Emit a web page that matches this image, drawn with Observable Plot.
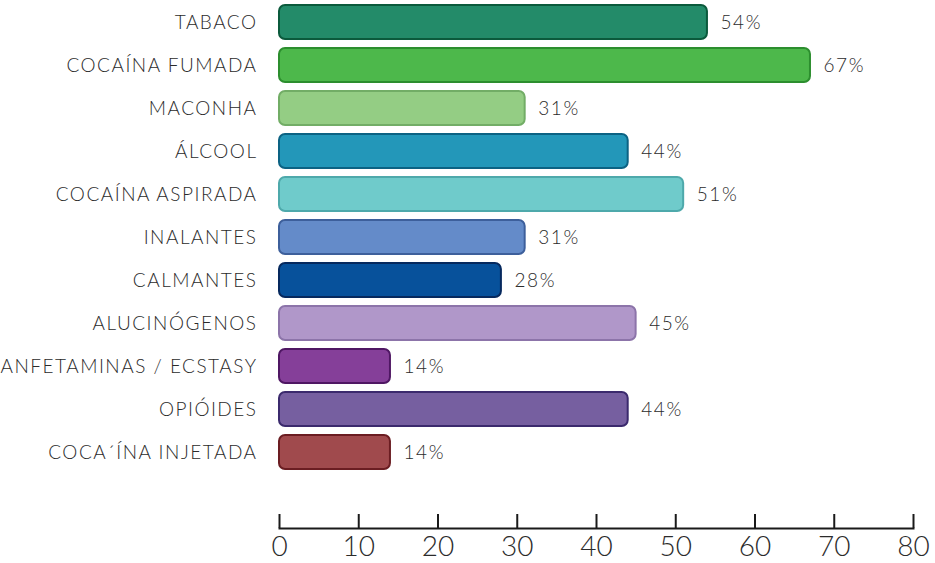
<!DOCTYPE html>
<html>
<head>
<meta charset="utf-8">
<script src="https://cdn.jsdelivr.net/npm/d3@7"></script>
<script src="https://cdn.jsdelivr.net/npm/@observablehq/plot@0.6"></script>
<style>
  html, body { margin: 0; padding: 0; background: #fff; }
  #chart svg { display: block; }
  #chart g[aria-label="y-axis tick label"] text { letter-spacing: 1.5px; }
  #chart g.value-labels text { letter-spacing: 1.6px; }
</style>
</head>
<body>
<div id="chart"></div>
<script>
const categories = [
  "TABACO", "COCAÍNA FUMADA", "MACONHA", "ÁLCOOL", "COCAÍNA ASPIRADA",
  "INALANTES", "CALMANTES", "ALUCINÓGENOS", "ANFETAMINAS / ECSTASY",
  "OPIÓIDES", "COCA´ÍNA INJETADA"
];
const values = [54, 67, 31, 44, 51, 31, 28, 45, 14, 44, 14];
const fills = [
  "#238b69", "#4db84b", "#94cd84", "#2397b9", "#6fcbcb",
  "#648bc9", "#07519b", "#b097c9", "#853f99", "#765fa0", "#a04a4d"
];
const strokes = [
  "#0b5a3c", "#2c8e2e", "#72ad66", "#0c6283", "#4ea9ab",
  "#3d5f9b", "#06295e", "#8c74a9", "#4f1763", "#3b2a6d", "#6b1d22"
];
const xTicks = [0, 10, 20, 30, 40, 50, 60, 70, 80];

const data = categories.map((c, i) => ({cat: c, value: values[i], fill: fills[i], stroke: strokes[i]}));

const W = 935, H = 563, MB = 35;
const font = "Lato, 'Open Sans', sans-serif";

const chart = Plot.plot({
  width: W,
  height: H,
  marginLeft: 279,
  marginRight: 22,
  marginTop: 0,
  marginBottom: MB,
  style: {fontFamily: font, color: "#2b2b2b", background: "#fff"},
  x: {domain: [0, 80]},
  y: {domain: categories, range: [-5.7, 480.4], padding: 0.2},
  marks: [
    Plot.barX(data, {
      y: "cat", x: "value", fill: "fill", stroke: "stroke",
      strokeWidth: 2, rx: 6
    }),
    Plot.text(data, {
      y: "cat", x: "value", text: d => d.value + "%",
      dx: 13, textAnchor: "start", fontSize: 19, fontWeight: 300, fill: "#2b2b2b"
    }),
    Plot.axisY({tickSize: 0, tickPadding: 22, fontSize: 19, fontWeight: 300, label: null}),
    Plot.ruleX(xTicks, {x: d => d, insetTop: H - MB - 14, stroke: "#1a1a1a", strokeWidth: 2}),
    Plot.frame({anchor: "bottom", stroke: "#1a1a1a", strokeWidth: 2}),
    Plot.axisX({ticks: xTicks, tickSize: 0, tickPadding: 8, fontSize: 28, fontWeight: 300, label: null, tickFormat: d => String(d)})
  ]
});
d3.select(chart).selectAll('g[aria-label="text"]').classed("value-labels", true);
document.getElementById("chart").appendChild(chart);
</script>
</body>
</html>
